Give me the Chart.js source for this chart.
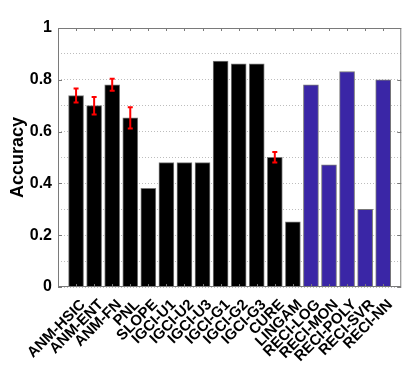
<!DOCTYPE html>
<html lang="en">
<head>
<meta charset="UTF-8">
<title>Accuracy by method</title>
<script src="https://cdn.jsdelivr.net/npm/chart.js@4.4.1/dist/chart.umd.min.js"></script>
<style>
    html, body { margin: 0; padding: 0; background: #fff; }
    #wrap { width: 415px; height: 370px; }
</style>
</head>
<body>
<div id="wrap"><canvas id="chart" width="415" height="370"></canvas></div>
<script>
// methods along the x axis
const methods = ['ANM-HSIC', 'ANM-ENT', 'ANM-FN', 'PNL', 'SLOPE', 'IGCI-U1', 'IGCI-U2', 'IGCI-U3',
                 'IGCI-G1', 'IGCI-G2', 'IGCI-G3', 'CURE', 'LINGAM', 'RECI-LOG', 'RECI-MON',
                 'RECI-POLY', 'RECI-SVR', 'RECI-NN'];
const accuracy = [0.739, 0.70, 0.781, 0.653, 0.381, 0.48, 0.48, 0.48,
                  0.872, 0.862, 0.862, 0.501, 0.252, 0.781, 0.472,
                  0.832, 0.30, 0.80];
// half-width of the red error bars (null = no bar)
const errors = [0.027, 0.034, 0.023, 0.041, null, null, null, null,
                null, null, null, 0.02, null, null, null,
                null, null, null];
const yTickLabels = ['0', '0.2', '0.4', '0.6', '0.8', '1'];

const FONT = "'Liberation Sans', Arial, sans-serif";
const BLACK = '#000000';
const BLUE = '#3a26a6';
const FRAME = '#7a7a7a';

// blank slot at each end so bars sit one step in from the frame
const labels = [''].concat(methods, ['']);
const values = [null].concat(accuracy, [null]);
const colors = labels.map(m => m.startsWith('RECI') ? BLUE : BLACK);

const isMajor = v => Math.abs(v * 5 - Math.round(v * 5)) < 1e-6;

const framePlugin = {
    id: 'frame',
    afterDatasetsDraw(chart) {
        const ctx = chart.ctx;
        const a = chart.chartArea;
        const x = chart.scales.x, y = chart.scales.y;
        const meta = chart.getDatasetMeta(0);

        // red error bars
        ctx.save();
        ctx.strokeStyle = '#ff0000';
        ctx.lineWidth = 2;
        errors.forEach((e, i) => {
            if (e == null) return;
            const bx = meta.data[i + 1].x;
            const top = y.getPixelForValue(accuracy[i] + e);
            const bot = y.getPixelForValue(accuracy[i] - e);
            ctx.beginPath();
            ctx.moveTo(bx, top); ctx.lineTo(bx, bot);
            ctx.moveTo(bx - 2.5, top); ctx.lineTo(bx + 2.5, top);
            ctx.moveTo(bx - 2.5, bot); ctx.lineTo(bx + 2.5, bot);
            ctx.stroke();
        });
        ctx.restore();

        // frame and inward ticks
        ctx.save();
        ctx.strokeStyle = FRAME;
        ctx.lineWidth = 1;
        ctx.strokeRect(a.left + 0.5, a.top + 0.5, a.right - a.left - 1, a.bottom - a.top - 1);
        ctx.beginPath();
        yTickLabels.forEach(t => {
            const py = Math.round(y.getPixelForValue(parseFloat(t))) + 0.5;
            ctx.moveTo(a.left, py); ctx.lineTo(a.left + 4, py);
            ctx.moveTo(a.right, py); ctx.lineTo(a.right - 4, py);
        });
        methods.forEach((m, i) => {
            const px = Math.round(x.getPixelForValue(i + 1)) + 0.5;
            ctx.moveTo(px, a.top); ctx.lineTo(px, a.top + 3);
            ctx.moveTo(px, a.bottom); ctx.lineTo(px, a.bottom - 3);
        });
        ctx.stroke();
        ctx.restore();
    }
};

new Chart(document.getElementById('chart'), {
    type: 'bar',
    data: {
        labels: labels,
        datasets: [{
            data: values,
            backgroundColor: colors,
            borderColor: '#777777',
            borderWidth: 1,
            barThickness: 15
        }]
    },
    options: {
        responsive: false,
        animation: false,
        layout: { padding: { top: 28, right: 8, left: 0, bottom: 0 } },
        plugins: {
            legend: { display: false },
            tooltip: { enabled: false }
        },
        scales: {
            x: {
                type: 'category',
                offset: false,
                grid: { display: false },
                border: { display: false },
                ticks: {
                    autoSkip: false,
                    maxRotation: 45,
                    minRotation: 45,
                    padding: 1,
                    labelOffset: 7,
                    color: '#000',
                    font: { family: FONT, size: 15, weight: 'bold' }
                },
                afterFit(s) { s.height = 83; }
            },
            y: {
                min: 0,
                max: 1,
                grid: { color: '#bdbdbd', drawTicks: false },
                border: { display: false, dash: [1, 2] },
                ticks: {
                    stepSize: 0.05,
                    padding: 6,
                    color: '#000',
                    font: { family: FONT, size: 16, weight: 'bold' },
                    callback: v => isMajor(v) ? String(+v.toFixed(1)) : ''
                },
                title: {
                    display: true,
                    text: 'Accuracy',
                    color: '#000',
                    padding: { top: 7, bottom: 0 },
                    font: { family: FONT, size: 18, weight: 'bold' }
                },
                afterFit(s) { s.width = 58; }
            }
        }
    },
    plugins: [framePlugin]
});
</script>
</body>
</html>
